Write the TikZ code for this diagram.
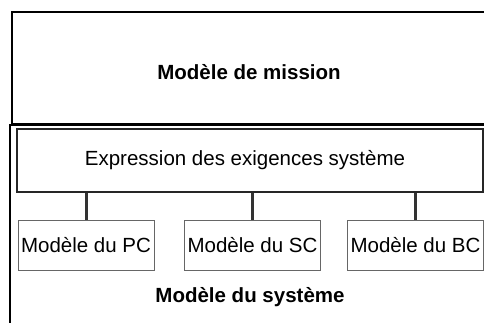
\documentclass[tikz,border=0pt]{standalone}
\usepackage{fontspec}
\setmainfont{Liberation Sans}
\begin{document}
\begin{tikzpicture}[x=1pt,y=1pt,
  frame/.style={draw=black,line width=2.4pt},
  exprbox/.style={draw=black!85,line width=1.4pt,minimum width=466pt,minimum height=63pt,inner sep=0pt},
  subbox/.style={draw=black!60,line width=1pt,minimum width=136pt,minimum height=50pt,inner sep=0pt,font=\fontsize{20.5}{24}\selectfont},
  link/.style={draw=black!80,line width=3pt},
  title/.style={font=\fontsize{20.5}{24}\selectfont\bfseries}]
\useasboundingbox (0,0) rectangle (484,322);
\clip (0,0) rectangle (484,322);
% mission model frame
\draw[frame] (500,198) -- (12,198) -- (12,310) -- (500,310);
% system model frame
\draw[line width=2pt] (9.5,-10) -- (9.5,197.5) -- (500,197.5);
\node[title] (mission) at (249,250) {Modèle de mission};
\node[exprbox] (expr) at (250,161.5) {};
\node[font=\fontsize{20.5}{24}\selectfont] (exprtxt) at (245,161.5) {Expression des exigences système};
\node[subbox] (pc) at (86,77) {Modèle du PC};
\node[subbox] (sc) at (252.5,77) {Modèle du SC};
\node[subbox] (bc) at (415.5,77) {Modèle du BC};
\draw[link] (pc.north) -- (pc.north |- expr.south);
\draw[link] (sc.north) -- (sc.north |- expr.south);
\draw[link] (bc.north) -- (bc.north |- expr.south);
\node[title] (system) at (250,25) {Modèle du système};
\end{tikzpicture}
\end{document}
